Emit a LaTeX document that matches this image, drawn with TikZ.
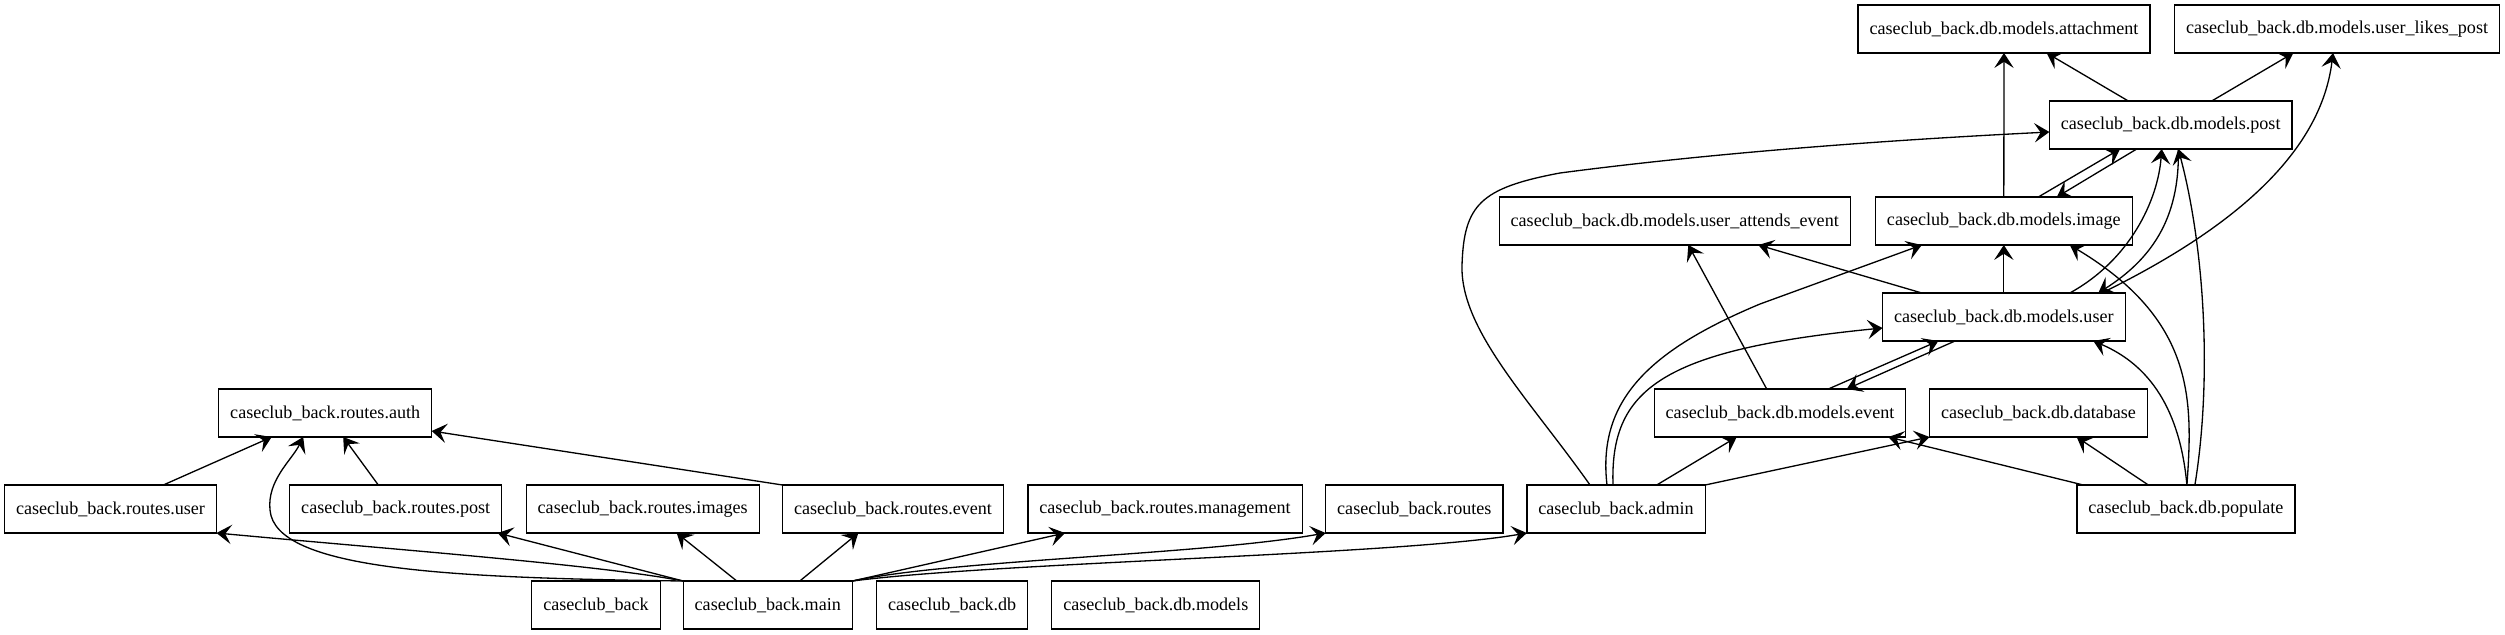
\documentclass[tikz,border=0pt]{standalone}
\usepackage{fontspec}
\setmainfont{Liberation Serif}
\usetikzlibrary{arrows.meta,calc}

\begin{document}
\begin{tikzpicture}[x=0.02cm,y=-0.02cm,
	mod/.style={draw,line width=0.7pt,minimum height=0.96cm,inner xsep=0.23cm,inner ysep=0pt,outer sep=0pt,font=\fontsize{10.3}{12}\selectfont},
	dep/.style={line width=0.75pt,-{Stealth[length=8.5pt,width=11pt,inset=3.5pt]}}]
	\useasboundingbox (0,0) rectangle (2505,635);
	% modules
	\node[mod] (attach) at (2004,29) {caseclub\_back.db.models.attachment};
	\node[mod] (likes) at (2337,29) {caseclub\_back.db.models.user\_likes\_post};
	\node[mod] (post) at (2170.7,125) {caseclub\_back.db.models.post};
	\node[mod] (uae) at (1674.7,221) {caseclub\_back.db.models.user\_attends\_event};
	\node[mod] (image) at (2003.8,221) {caseclub\_back.db.models.image};
	\node[mod] (user) at (2003.8,317) {caseclub\_back.db.models.user};
	\node[mod] (auth) at (325.2,413) {caseclub\_back.routes.auth};
	\node[mod] (event) at (1780,413) {caseclub\_back.db.models.event};
	\node[mod] (database) at (2038.5,413) {caseclub\_back.db.database};
	\node[mod] (ruser) at (110.5,509) {caseclub\_back.routes.user};
	\node[mod] (rpost) at (395.7,509) {caseclub\_back.routes.post};
	\node[mod] (rimages) at (642.7,509) {caseclub\_back.routes.images};
	\node[mod] (revent) at (893,509) {caseclub\_back.routes.event};
	\node[mod] (rmgmt) at (1165,509) {caseclub\_back.routes.management};
	\node[mod] (routes) at (1414.3,509) {caseclub\_back.routes};
	\node[mod] (admin) at (1616,509) {caseclub\_back.admin};
	\node[mod] (populate) at (2185.9,509) {caseclub\_back.db.populate};
	\node[mod] (pkg) at (596,605) {caseclub\_back};
	\node[mod] (main) at (767.8,605) {caseclub\_back.main};
	\node[mod] (db) at (952.2,605) {caseclub\_back.db};
	\node[mod] (models) at (1155.8,605) {caseclub\_back.db.models};

	% routes
	\draw[dep] ($(ruser.north)+(52.8,0)$) -- ($(auth.south)+(-53.5,0)$);
	\draw[dep] ($(rpost.north)+(-17.4,0)$) -- ($(auth.south)+(18,0)$);
	\draw[dep] (revent.north west) -- ($(auth.south east)+(0,-6)$);
	\draw[dep] (main.north west) .. controls (450,578) and (275,570) .. (270,510)
		.. controls (267,480) and (292,460) .. ($(auth.south)+(-22,0)$);
	\draw[dep] (main.north west) .. controls (600,565) and (400,550) .. (ruser.south east);
	\draw[dep] (main.north west) -- ($(rpost.south east)+(-4,0)$);
	\draw[dep] ($(main.north)+(-31,0)$) -- ($(rimages.south)+(34,0)$);
	\draw[dep] ($(main.north)+(32,0)$) -- ($(revent.south)+(-34.7,0)$);
	\draw[dep] (main.north east) -- ($(rmgmt.south)+(-100,0)$);
	\draw[dep] (main.north east) .. controls (950,560) and (1200,555) .. (routes.south west);
	\draw[dep] (main.north east) .. controls (1000,562) and (1400,555) .. (admin.south west);

	% admin
	\draw[dep] ($(admin.north)+(-26,0)$) .. controls (1530,400) and (1460,330) .. (1462,265)
		.. controls (1464,205) and (1480,188) .. (1560,173)
		.. controls (1750,148) and (1950,137) .. ($(post.west)+(0,7)$);
	\draw[dep] ($(admin.north)+(-9,0)$) .. controls (1597,400) and (1650,350) .. (1760,304)
		-- ($(image.south)+(-82,0)$);
	\draw[dep] ($(admin.north)+(-3,0)$) .. controls (1610,390) and (1660,350) .. ($(user.west)+(0,11)$);
	\draw[dep] ($(admin.north)+(40.7,0)$) -- ($(event.south)+(-43.3,0)$);
	\draw[dep] (admin.north east) -- (database.south west);

	% models
	\draw[dep] ($(event.north)+(-13.3,0)$) -- ($(uae.south)+(13.6,0)$);
	\draw[dep] ($(event.north)+(48.3,0)$) -- ($(user.south)+(-65.5,0)$);
	\draw[dep] ($(user.south)+(-48.8,0)$) -- ($(event.north)+(66.7,0)$);
	\draw[dep] ($(user.north)+(-82,0)$) -- ($(uae.south)+(83.6,0)$);
	\draw[dep] (user.north) -- (image.south);
	\draw[dep] (image.north) -- (attach.south);
	\draw[dep] ($(user.north)+(66,0)$) .. controls (2130,260) and (2158,200) .. ($(post.south)+(-9,0)$);
	\draw[dep] ($(post.south)+(7.6,0)$) .. controls (2180,220) and (2150,260) .. ($(user.north)+(94.5,0)$);
	\draw[dep] ($(user.north)+(98,0)$) .. controls (2220,235) and (2320,160) .. ($(likes.south)+(-4,0)$);
	\draw[dep] ($(image.north)+(34.5,0)$) -- ($(post.south)+(-50.7,0)$);
	\draw[dep] ($(post.south)+(-34,0)$) -- ($(image.north)+(53,0)$);
	\draw[dep] ($(post.north)+(-42.4,0)$) -- ($(attach.south)+(42.7,0)$);
	\draw[dep] ($(post.north)+(41,0)$) -- ($(likes.south)+(-43.7,0)$);

	% populate
	\draw[dep] ($(populate.north)+(-102.6,0)$) -- ($(event.south)+(108.3,0)$);
	\draw[dep] ($(populate.north)+(-37.6,0)$) -- ($(database.south)+(38.2,0)$);
	\draw[dep] ($(populate.north)+(1,0)$) .. controls (2180,410) and (2150,365) .. ($(user.south)+(89.5,0)$);
	\draw[dep] ($(populate.north)+(1,0)$) .. controls (2193,400) and (2195,320) .. ($(image.south)+(66,0)$);
	\draw[dep] ($(populate.north)+(9,0)$) .. controls (2212,380) and (2205,250) .. ($(post.south)+(7.6,0)$);
\end{tikzpicture}
\end{document}
